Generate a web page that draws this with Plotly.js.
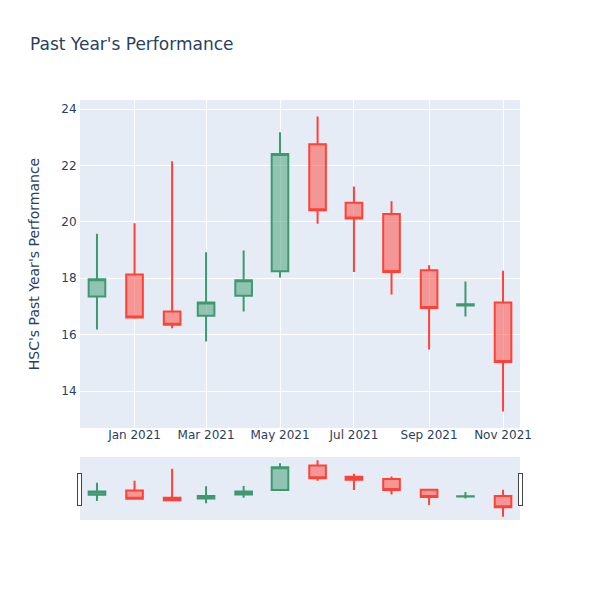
<!DOCTYPE html>
<html>
<head>
<meta charset="utf-8">
<script src="https://cdn.plot.ly/plotly-3.0.1.min.js"></script>
<style>html,body{margin:0;padding:0;}#chart{width:600px;height:600px;}</style>
</head>
<body>
<div id="chart"></div>
<script>
const dates = ["2020-12-01","2021-01-01","2021-02-01","2021-03-01","2021-04-01","2021-05-01","2021-06-01","2021-07-01","2021-08-01","2021-09-01","2021-10-01","2021-11-01"];
const openVals  = [17.35, 18.13, 16.82, 16.67, 17.38, 18.25, 22.75, 20.68, 20.28, 18.28, 17.03, 17.14];
const highVals  = [19.58, 19.95, 22.15, 18.92, 18.98, 23.18, 23.74, 21.25, 20.73, 18.46, 17.88, 18.27];
const lowVals   = [16.18, 16.56, 16.23, 15.76, 16.82, 18.03, 19.93, 18.22, 17.42, 15.47, 16.64, 13.27];
const closeVals = [17.96, 16.61, 16.35, 17.14, 17.93, 22.41, 20.41, 20.12, 18.22, 16.94, 17.08, 15.03];

const trace = {
  type: 'candlestick',
  x: dates,
  open: openVals,
  high: highVals,
  low: lowVals,
  close: closeVals,
  increasing: {line: {color: '#3D9970'}},
  decreasing: {line: {color: '#FF4136'}}
};

const axisStyle = {
  gridcolor: 'white',
  linecolor: 'white',
  zerolinecolor: 'white',
  zerolinewidth: 2,
  ticks: ''
};

const layout = {
  width: 600,
  height: 600,
  font: {family: '"DejaVu Sans", verdana, arial, sans-serif', color: '#2a3f5f', size: 12},
  title: {text: "Past Year's Performance", x: 0.05, font: {size: 17}},
  paper_bgcolor: 'white',
  plot_bgcolor: '#E5ECF6',
  yaxis: Object.assign({title: {text: "HSC's Past Year's Performance", standoff: 18}, automargin: true}, axisStyle),
  xaxis: Object.assign({rangeslider: {visible: true}, ticklabelstandoff: -4}, axisStyle),
  showlegend: false,
  margin: {l: 80, r: 80, t: 100, b: 80}
};

Plotly.newPlot('chart', [trace], layout, {displayModeBar: false});
</script>
</body>
</html>
